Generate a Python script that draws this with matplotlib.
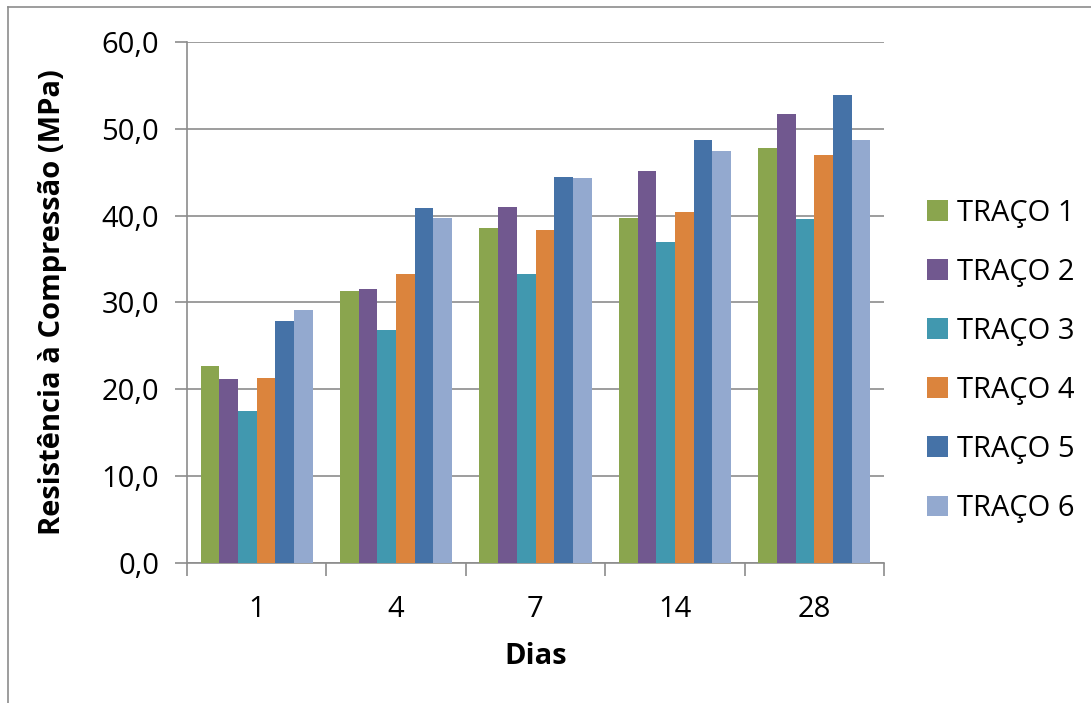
import numpy as np
import matplotlib.pyplot as plt
from matplotlib.lines import Line2D
from matplotlib.patches import Patch

plt.rcParams['font.family'] = ['Open Sans', 'DejaVu Sans']

# Data
dias = ['1', '4', '7', '14', '28']
series_names = ['TRAÇO 1', 'TRAÇO 2', 'TRAÇO 3', 'TRAÇO 4', 'TRAÇO 5', 'TRAÇO 6']
traco1 = [22.7, 31.3, 38.6, 39.7, 47.8]
traco2 = [21.2, 31.6, 41.0, 45.2, 51.7]
traco3 = [17.5, 26.8, 33.3, 37.0, 39.6]
traco4 = [21.3, 33.3, 38.4, 40.4, 47.0]
traco5 = [27.9, 40.9, 44.4, 48.7, 53.9]
traco6 = [29.1, 39.7, 44.3, 47.5, 48.7]
y_ticks = [0, 10, 20, 30, 40, 50, 60]

colors = ['#8AA54E', '#71588F', '#4198AF', '#DB843D', '#4572A7', '#93A9CF']
all_series = [traco1, traco2, traco3, traco4, traco5, traco6]

fig = plt.figure(figsize=(10.91, 7.03), dpi=100)
ax = fig.add_axes([187 / 1091, 1 - 563 / 703, 697 / 1091, 521 / 703])

x = np.arange(len(dias))
n = len(all_series)
bar_w = 0.134
for i, (vals, c) in enumerate(zip(all_series, colors)):
    offset = (i - (n - 1) / 2) * bar_w
    ax.bar(x + offset, vals, bar_w, color=c, edgecolor='none', zorder=3)

ax.set_xlim(-0.5, len(dias) - 0.5)
ax.set_ylim(0, 60)
ax.set_yticks(y_ticks)
ax.set_yticklabels([f'{v:.1f}'.replace('.', ',') for v in y_ticks])
ax.yaxis.grid(True, color='#8C8C8C', linewidth=1.2, zorder=0)

# group boundaries as major ticks, category labels as minor ticks
ax.set_xticks(np.arange(-0.5, len(dias), 1.0))
ax.set_xticklabels([])
ax.set_xticks(x, minor=True)
ax.set_xticklabels(dias, minor=True)
ax.tick_params(axis='x', which='major', length=9, color='#8C8C8C', width=1.2)
ax.tick_params(axis='x', which='minor', length=0, pad=23, labelsize=21)
ax.tick_params(axis='y', length=9, color='#8C8C8C', width=1.2, pad=11, labelsize=21)

for s in ['top', 'right']:
    ax.spines[s].set_visible(False)
for s in ['left', 'bottom']:
    ax.spines[s].set_color('#8C8C8C')
    ax.spines[s].set_linewidth(1.2)

fig.text(53 / 1091, 1 - 302 / 703, 'Resistência à Compressão (MPa)', rotation=90,
         ha='center', va='center', fontsize=21, fontweight='bold')
fig.text(536 / 1091, 1 - 657 / 703, 'Dias', ha='center', va='center',
         fontsize=21, fontweight='bold')

handles = [Patch(facecolor=c, edgecolor='none') for c in colors]
fig.legend(handles, series_names, loc='center left',
           bbox_to_anchor=(927 / 1091, 1 - 361 / 703), frameon=False,
           fontsize=21, handlelength=0.72, handleheight=0.72, handletextpad=0.3,
           labelspacing=1.03, borderpad=0, borderaxespad=0)

# outer chart border (cropped at right and bottom in the original)
fig.add_artist(Line2D([8 / 1091, 1], [1 - 7 / 703, 1 - 7 / 703],
                      transform=fig.transFigure, color='#8C8C8C', linewidth=1.2))
fig.add_artist(Line2D([8 / 1091, 8 / 1091], [0, 1 - 7 / 703],
                      transform=fig.transFigure, color='#8C8C8C', linewidth=1.2))

fig.savefig('out.png', dpi=100)
